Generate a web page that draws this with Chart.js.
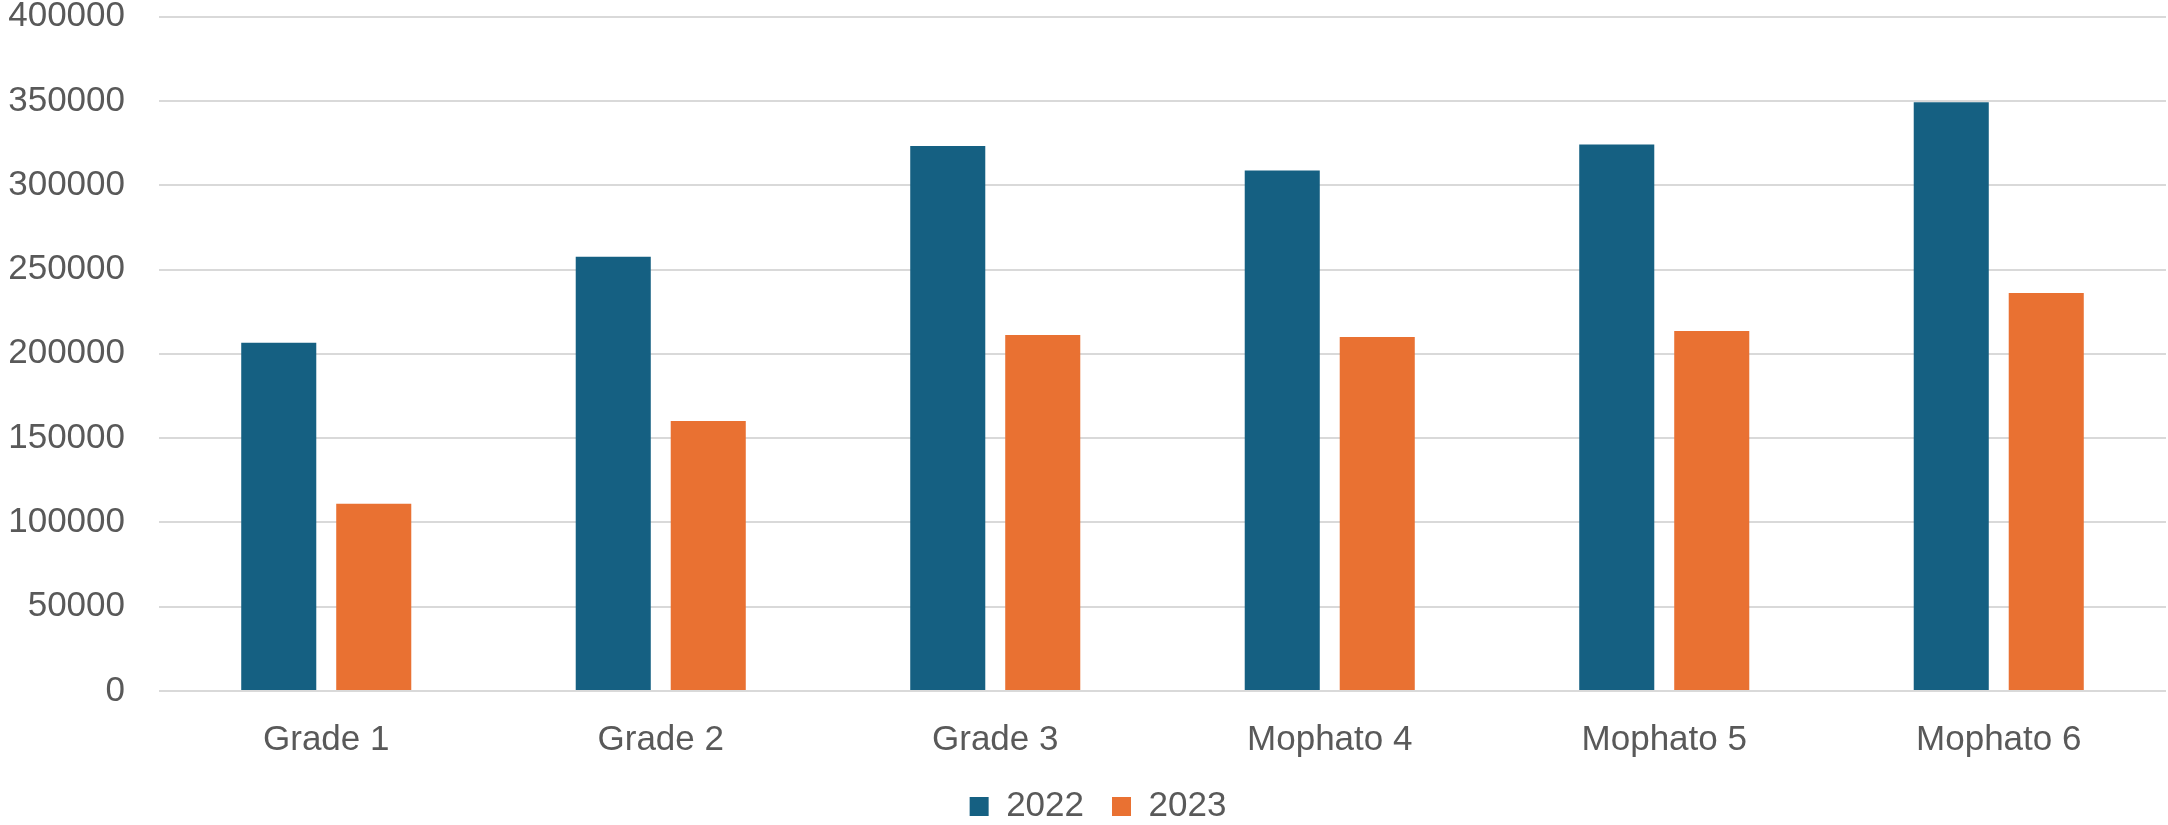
<!DOCTYPE html>
<html>
<head>
<meta charset="utf-8">
<script src="https://cdn.jsdelivr.net/npm/chart.js@4.4.1/dist/chart.umd.min.js"></script>
<style>
  html, body { margin: 0; padding: 0; background: #ffffff; }
  canvas { display: block; }
</style>
</head>
<body>
<canvas id="chart" width="2168" height="825"></canvas>
<script>
// Enrolment by class, 2022 vs 2023
const categories = ['Grade 1', 'Grade 2', 'Grade 3', 'Mophato 4', 'Mophato 5', 'Mophato 6'];
const seriesNames = ['2022', '2023'];
const values2022 = [206500, 257500, 323200, 308800, 324200, 349200];
const values2023 = [111000, 160200, 211100, 210000, 213500, 236100];
const yTicks = [0, 50000, 100000, 150000, 200000, 250000, 300000, 350000, 400000];

const seriesColors = ['#156082', '#E97132'];
const textColor = '#595959';
const gridColor = '#d9d9d9';
const fontFamily = "'Liberation Sans', Arial, sans-serif";

// compact legend strip, centred a little right of the canvas middle
const legendPlacement = {
  id: 'legendPlacement',
  beforeLayout(chart) {
    const lg = chart.legend;
    if (lg && !lg._fixedHeight) {
      const fit = lg.fit;
      lg.fit = function () { fit.call(this); this.height = 64; };
      lg._fixedHeight = true;
    }
  },
  afterLayout(chart) {
    if (chart.legend) chart.legend.left = 30;
  }
};

new Chart(document.getElementById('chart'), {
  type: 'bar',
  data: {
    labels: categories,
    datasets: [
      { label: seriesNames[0], data: values2022, backgroundColor: seriesColors[0], borderWidth: 0 },
      { label: seriesNames[1], data: values2023, backgroundColor: seriesColors[1], borderWidth: 0 }
    ]
  },
  options: {
    responsive: false,
    animation: false,
    devicePixelRatio: 1,
    categoryPercentage: 0.568,
    barPercentage: 0.79,
    layout: { padding: { left: 0, right: 2, top: 0, bottom: 0 } },
    scales: {
      x: {
        afterFit(scale) { scale.height = 70; },
        grid: { display: false, drawTicks: false },
        border: { display: false },
        ticks: {
          color: textColor,
          padding: 28,
          maxRotation: 0,
          font: { family: fontFamily, size: 35, lineHeight: 1.2 }
        }
      },
      y: {
        min: 0,
        max: 400000,
        afterBuildTicks(scale) { scale.ticks = yTicks.map(v => ({ value: v })); },
        afterFit(scale) { scale.width = 159; },
        grid: { color: gridColor, lineWidth: 2, drawTicks: true, tickLength: 34, tickColor: 'rgba(0,0,0,0)' },
        border: { display: false },
        ticks: {
          color: textColor,
          padding: 0,
          font: { family: fontFamily, size: 35, lineHeight: 0.95 },
          callback: v => String(v)
        }
      }
    },
    plugins: {
      legend: {
        position: 'bottom',
        labels: {
          color: textColor,
          boxWidth: 19,
          boxHeight: 19,
          padding: 28,
          font: { family: fontFamily, size: 35 }
        }
      },
      tooltip: { enabled: false }
    }
  },
  plugins: [legendPlacement]
});
</script>
</body>
</html>
